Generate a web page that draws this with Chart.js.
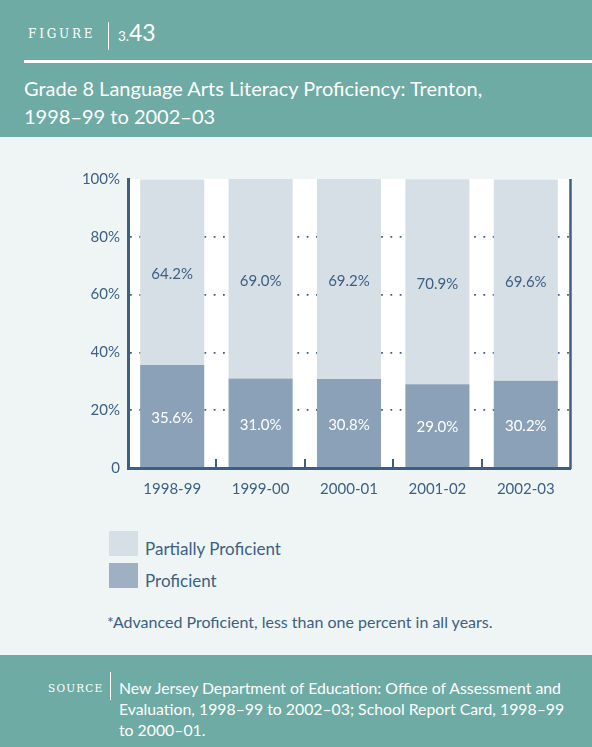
<!DOCTYPE html>
<html>
<head>
<meta charset="utf-8">
<script src="https://cdn.jsdelivr.net/npm/chart.js@4"></script>
<style>
  html, body { margin: 0; padding: 0; background: #eff5f5; }
  body { width: 592px; height: 747px; position: relative; overflow: hidden; font-family: Lato, sans-serif; }
  .header { position: absolute; left: 0; top: 0; width: 592px; height: 137px; background: #6daba4; color: #fff; }
  .fig { position: absolute; left: 28px; top: 27px; font-family: "DejaVu Serif", serif; font-size: 12px; letter-spacing: 2.8px; }
  .fig-bar { position: absolute; left: 108px; top: 22px; width: 1px; height: 28px; background: #fff; }
  .fig-num { position: absolute; left: 118px; top: 18px; font-size: 13.5px; white-space: nowrap; }
  .fig-num b { font-weight: normal; font-size: 23px; }
  .sep { position: absolute; left: 24px; top: 60px; right: 0; height: 3px; background: #fff; }
  .title { position: absolute; left: 24px; top: 74px; font-size: 20px; line-height: 28px; white-space: nowrap; }
  .chart-box { position: absolute; left: 0; top: 160px; width: 592px; height: 340px; }
  .legend { position: absolute; left: 109px; top: 531px; color: #3d5f82; font-size: 17px; white-space: nowrap; }
  .legend .row { position: relative; height: 32px; }
  .legend .sw { position: absolute; left: 0; top: 0; width: 29px; height: 25px; }
  .legend .lbl { position: absolute; left: 36px; top: 7px; }
  .note { position: absolute; left: 107px; top: 612px; color: #3d5f82; font-size: 16px; white-space: nowrap; }
  .footer { position: absolute; left: 0; top: 655px; width: 592px; height: 92px; background: #6daba4; color: #fff; }
  .src { position: absolute; left: 48px; top: 27px; font-family: "DejaVu Serif", serif; font-size: 10.5px; letter-spacing: 1.2px; }
  .src-bar { position: absolute; left: 110px; top: 17px; width: 1px; height: 28px; background: #fff; }
  .src-text { position: absolute; left: 119px; top: 22px; width: 452px; font-size: 15.8px; line-height: 21px; }
</style>
</head>
<body>
<div class="header">
  <div class="fig">FIGURE</div>
  <div class="fig-bar"></div>
  <div class="fig-num">3.<b>43</b></div>
  <div class="sep"></div>
  <div class="title">Grade 8 Language Arts Literacy Proficiency: Trenton,<br>1998–99 to 2002–03</div>
</div>

<div class="chart-box"><canvas id="chart" width="592" height="340"></canvas></div>

<div class="legend">
  <div class="row"><div class="sw" style="background:#d6dfe6"></div><div class="lbl">Partially Proficient</div></div>
  <div class="row"><div class="sw" style="background:#9fb0c2"></div><div class="lbl">Proficient</div></div>
</div>
<div class="note">*Advanced Proficient, less than one percent in all years.</div>

<div class="footer">
  <div class="src">SOURCE</div>
  <div class="src-bar"></div>
  <div class="src-text">New Jersey Department of Education: Office of Assessment and Evaluation, 1998–99 to 2002–03; School Report Card, 1998–99 to 2000–01.</div>
</div>

<script>
const years = ['1998-99', '1999-00', '2000-01', '2001-02', '2002-03'];
const proficient = [35.6, 31.0, 30.8, 29.0, 30.2];
const partiallyProficient = [64.2, 69.0, 69.2, 70.9, 69.6];
const yTicks = [0, 20, 40, 60, 80, 100];

const AXIS_BLUE = '#3d5f82';

// white plot background, right frame line and upward category ticks
const framePlugin = {
  id: 'frame',
  beforeDraw(chart) {
    const { ctx, chartArea: a } = chart;
    ctx.save();
    ctx.fillStyle = '#ffffff';
    ctx.fillRect(a.left, a.top, a.right - a.left + 2, a.bottom - a.top);
    ctx.restore();
  },
  afterDraw(chart) {
    const { ctx, chartArea: a, scales } = chart;
    const x = scales.x;
    ctx.save();
    ctx.strokeStyle = AXIS_BLUE;
    ctx.lineWidth = 2.5;
    ctx.beginPath();
    ctx.moveTo(a.right + 0.5, a.top);
    ctx.lineTo(a.right + 0.5, a.bottom + 1);
    ctx.stroke();
    ctx.lineWidth = 2;
    for (let i = 1; i < years.length; i++) {
      const px = Math.round((x.getPixelForValue(i - 1) + x.getPixelForValue(i)) / 2);
      ctx.beginPath();
      ctx.moveTo(px, a.bottom);
      ctx.lineTo(px, a.bottom - 9);
      ctx.stroke();
    }
    ctx.restore();
  }
};

// value labels centred in each segment
const valueLabels = {
  id: 'valueLabels',
  afterDatasetsDraw(chart) {
    const { ctx } = chart;
    ctx.save();
    ctx.font = '15px Lato, sans-serif';
    ctx.textAlign = 'center';
    ctx.textBaseline = 'middle';
    chart.data.datasets.forEach((ds, di) => {
      chart.getDatasetMeta(di).data.forEach((bar, i) => {
        const mid = (bar.y + bar.base) / 2 + 2;
        ctx.fillStyle = di === 0 ? '#ffffff' : AXIS_BLUE;
        ctx.fillText(ds.data[i].toFixed(1) + '%', bar.x, mid);
      });
    });
    ctx.restore();
  }
};

new Chart(document.getElementById('chart'), {
  type: 'bar',
  data: {
    labels: years,
    datasets: [
      {
        label: 'Proficient',
        data: proficient,
        backgroundColor: '#8aa1b7',
        borderWidth: 0
      },
      {
        label: 'Partially Proficient',
        data: partiallyProficient,
        backgroundColor: '#d6dfe6',
        borderWidth: 0
      }
    ]
  },
  options: {
    responsive: false,
    animation: false,
    layout: { padding: { top: 19, right: 22, left: 0, bottom: 0 } },
    datasets: { bar: { categoryPercentage: 1, barPercentage: 0.725 } },
    plugins: {
      legend: { display: false },
      tooltip: { enabled: false }
    },
    scales: {
      x: {
        stacked: true,
        grid: { display: false },
        border: { display: true, color: AXIS_BLUE, width: 3 },
        ticks: {
          color: AXIS_BLUE,
          padding: 4,
          font: { family: 'Lato, sans-serif', size: 15 }
        },
        afterFit(scale) { scale.height = 32; }
      },
      y: {
        stacked: true,
        min: 0,
        max: 100,
        afterBuildTicks(scale) { scale.ticks = yTicks.map(v => ({ value: v })); },
        grid: {
          drawTicks: false,
          lineWidth: 1.8,
          color: ctx => (ctx.tick && (ctx.tick.value === 0 || ctx.tick.value === 100)) ? 'rgba(0,0,0,0)' : AXIS_BLUE
        },
        border: { display: true, color: AXIS_BLUE, width: 3, dash: [1.8, 7.5] },
        ticks: {
          color: AXIS_BLUE,
          padding: 8,
          font: { family: 'Lato, sans-serif', size: 15 },
          callback: v => v === 0 ? '0' : v + '%'
        },
        afterFit(scale) { scale.width = 128; }
      }
    }
  },
  plugins: [framePlugin, valueLabels]
});
</script>
</body>
</html>
